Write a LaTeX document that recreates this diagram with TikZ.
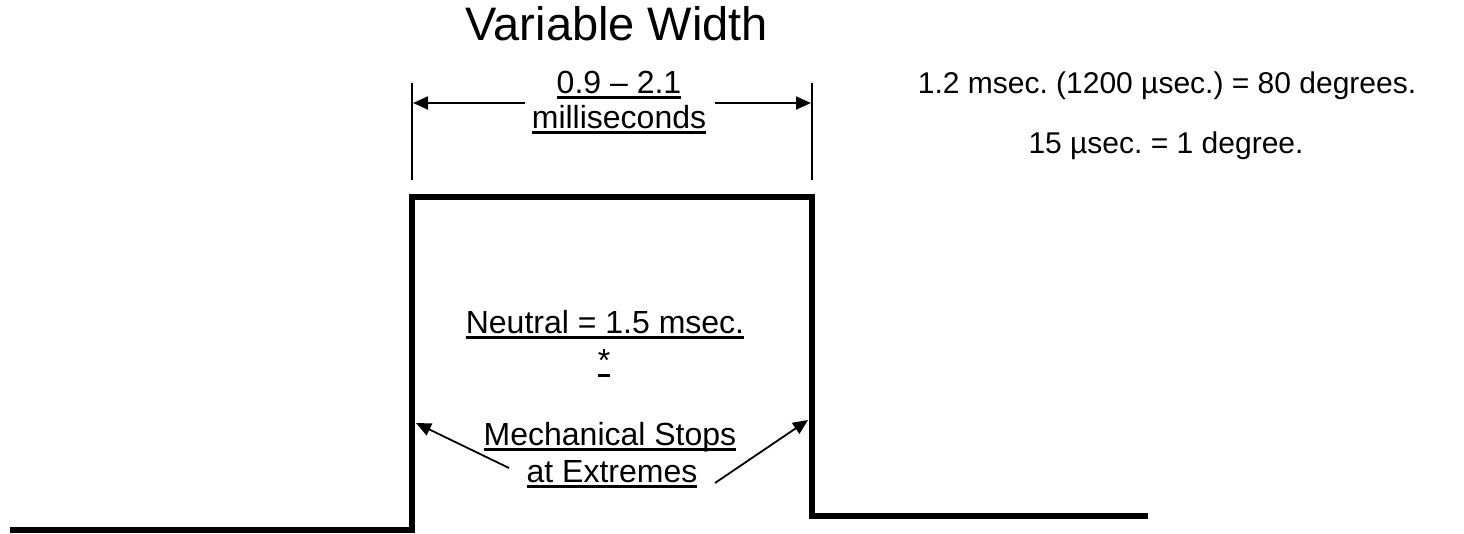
\documentclass[tikz,border=0pt]{standalone}
\usepackage{fontspec}
\setmainfont{Liberation Sans}
\usetikzlibrary{arrows.meta}
\newcommand\ulbox[1]{\setbox0\hbox{#1}\rlap{\rule[-5.5pt]{\wd0}{2.4pt}}\box0}
\frenchspacing
\begin{document}
\begin{tikzpicture}[x=1pt,y=-1pt,
  txt/.style={inner sep=0pt, anchor=base, font=\fontsize{32}{38}\selectfont},
  info/.style={inner sep=0pt, anchor=base, font=\fontsize{30}{36}\selectfont},
  ttl/.style={inner sep=0pt, anchor=base, font=\fontsize{47}{56}\selectfont},
  pulse/.style={line width=6pt, line join=miter},
  thinline/.style={line width=1.8pt},
  arr/.style={line width=1.8pt, -{Triangle[length=15pt,width=13pt]}}]
\useasboundingbox (0,0) rectangle (1464,533);
% pulse
\coordinate (p0) at (10,530);
\coordinate (p1) at (412,530);
\coordinate (p2) at (412,197);
\coordinate (p3) at (812,197);
\coordinate (p4) at (812,516);
\coordinate (p5) at (1148,516);
\draw[pulse] (p0) -- (p1) -- (p2) -- (p3) -- (p4) -- (p5);
% texts
\node[ttl] (title) at (617,40) {Variable Width};
\node[txt] (dimA) at (619,93) {\ulbox{0.9 – 2.1}};
\node[txt] (dimB) at (619,128) {\ulbox{milliseconds}};
\node[txt] (neutral) at (605,333) {\ulbox{Neutral = 1.5 msec.}};
\node[txt] (star) at (604,371) {\ulbox{*}};
\node[txt] (mechA) at (610,445) {\ulbox{Mechanical Stops}};
\node[txt] (mechB) at (612,482) {\ulbox{at Extremes}};
\node[info] (info1) at (1167,93) {1.2 msec. (1200 µsec.) = 80 degrees.};
\node[info] (info2) at (1166,153) {15 µsec. = 1 degree.};
% dimension lines
\coordinate (dlt) at (412,83);
\coordinate (dlb) at (412,180);
\coordinate (drt) at (812,83);
\coordinate (drb) at (812,180);
\draw[thinline] (dlt) -- (dlb);
\draw[thinline] (drt) -- (drb);
\coordinate (al0) at (525,103);
\coordinate (al1) at (413,103);
\coordinate (ar0) at (715,103);
\coordinate (ar1) at (811,103);
\draw[arr] (al0) -- (al1);
\draw[arr] (ar0) -- (ar1);
% mechanical stop arrows
\coordinate (ml0) at (509,468);
\coordinate (ml1) at (416,423);
\coordinate (mr0) at (715,483);
\coordinate (mr1) at (808,420);
\draw[arr] (ml0) -- (ml1);
\draw[arr] (mr0) -- (mr1);
\end{tikzpicture}
\end{document}
